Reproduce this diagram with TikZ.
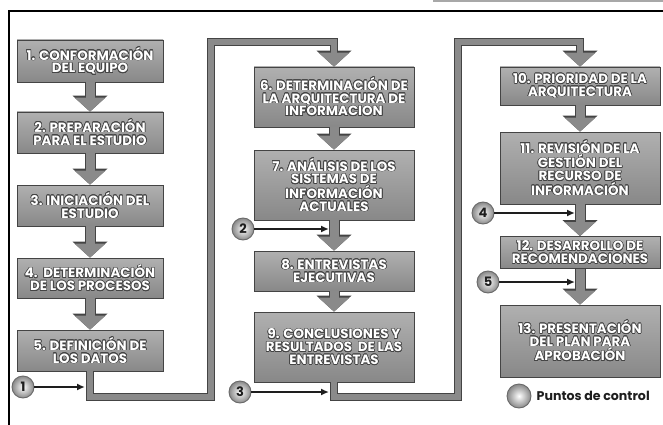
\documentclass[tikz,border=0pt]{standalone}
\usepackage{fontspec}
\setmainfont{Poppins}
\usepackage{contour}
\usetikzlibrary{arrows.meta,calc}
\definecolor{peInk}{HTML}{1E1E1E}
\definecolor{peEdge}{HTML}{444444}
\definecolor{peBoxTop}{HTML}{B0B0B0}
\definecolor{peBoxBot}{HTML}{888888}
\definecolor{pePipe}{HTML}{8A8A8A}
\definecolor{peRule}{HTML}{A8A8A8}
\newcommand{\PEType}{\bfseries\fontsize{13.4}{12.8}\selectfont}
\newcommand{\PELine}[1]{\contour{peEdge}{#1}}
\contourlength{0.6pt}
\contournumber{16}
\tikzset{pe/base/.style={x=1pt,y=-1pt,line cap=butt,line join=miter,
  every node/.style={inner sep=0pt,text=peInk}},
  pe/box/.style={draw=peEdge,line width=.8pt,top color=peBoxTop,bottom color=peBoxBot,
    align=center,font=\PEType,text=white},
  pe/colA/.style={pe/box,minimum width=146pt},
  pe/colB/.style={pe/box,minimum width=160pt},
  pe/flow/.style={draw=pePipe,line width=9pt,
    -{Triangle[width=31pt,length=14pt,line width=0pt]},
    preaction={draw=peEdge,line width=11pt,-{Triangle[width=35pt,length=16pt,line width=0pt]}}},
  pe/loop/.style={draw=pePipe,line width=6pt,
    -{Triangle[width=31pt,length=14pt,line width=0pt]},
    preaction={draw=peEdge,line width=8pt,-{Triangle[width=35pt,length=16pt,line width=0pt]}}},
  pe/dot/.style={circle,draw=peEdge!80,line width=.9pt,inner color=white,outer color=peBoxBot,
    minimum size=22pt,font=\bfseries\fontsize{13}{13}\selectfont},
  pe/check/.style={-{Latex[length=8pt,width=7pt]},draw=peInk,line width=2.3pt,shorten >=5pt}}

\begin{document}
\begin{tikzpicture}[pe/base]
  \useasboundingbox (0,0) rectangle (663,425);
  \draw[black,line width=1.3pt] (9,425)--(9,11)--(663,11);
  \draw[peRule,line width=1.5pt] (433,1)--(663,1);
  % first column
  \node[pe/colA,minimum height=42pt] (b1) at (90,61)
    {\PELine{1. CONFORMACIÓN}\\\PELine{DEL EQUIPO}};
  \node[pe/colA,minimum height=41pt] (b2) at (90,132.5)
    {\PELine{2. PREPARACIÓN}\\\PELine{PARA EL ESTUDIO}};
  \node[pe/colA,minimum height=41pt] (b3) at (90,205.5)
    {\PELine{3. INICIACIÓN DEL}\\\PELine{ESTUDIO}};
  \node[pe/colA,minimum height=40pt] (b4) at (90,278)
    {\PELine{4.\ \ DETERMINACIÓN}\\\PELine{DE LOS PROCESOS}};
  \node[pe/colA,minimum height=41pt] (b5) at (90,350.5)
    {\PELine{5. DEFINICIÓN DE}\\\PELine{LOS DATOS}};
  % second column
  \node[pe/colB,minimum height=60pt] (b6) at (334,97)
    {\PELine{6. DETERMINACIÓN DE}\\\PELine{LA ARQUITECTURA DE}\\\PELine{INFORMACION}};
  \node[pe/colB,minimum height=70pt] (b7) at (334,185)
    {\PELine{7. ANÁLISIS DE LOS}\\\PELine{SISTEMAS DE}\\\PELine{INFORMACIÓN}\\\PELine{ACTUALES}};
  \node[pe/colB,minimum height=40pt] (b8) at (334,271)
    {\PELine{8. ENTREVISTAS}\\\PELine{EJECUTIVAS}};
  \node[pe/colB,minimum height=70pt] (b9) at (334,347)
    {\PELine{9. CONCLUSIONES Y}\\\PELine{RESULTADOS\ \ DE LAS}\\\PELine{ENTREVISTAS}};
  % third column
  \node[pe/colB,minimum height=38pt] (b10) at (580,86)
    {\PELine{10. PRIORIDAD DE LA}\\\PELine{ARQUITECTURA}};
  \node[pe/colB,minimum height=72pt] (b11) at (580,168)
    {\PELine{11. REVISIÓN DE LA}\\\PELine{GESTIÓN DEL}\\\PELine{RECURSO DE}\\\PELine{INFORMACIÓN}};
  \node[pe/colB,minimum height=32pt] (b12) at (580,252.5)
    {\PELine{12. DESARROLLO DE}\\\PELine{RECOMENDACIONES}};
  \node[pe/colB,minimum height=72pt] (b13) at (580,341)
    {\PELine{13. PRESENTACIÓN}\\\PELine{DEL PLAN PARA}\\\PELine{APROBACIÓN}};
  \foreach \a/\b in {b1/b2,b2/b3,b3/b4,b4/b5,b6/b7,b7/b8,b8/b9,b10/b11,b11/b12,b12/b13}
    \draw[pe/flow] (\a.south)--(\b.north);
  % the two returns to the top of the next column
  \coordinate (j1b) at (211,397);
  \coordinate (j1t) at (211,42);
  \coordinate (j2b) at (458,397);
  \coordinate (j2t) at (458,42);
  \draw[pe/loop] (b5.south) |- (j1b) -- (j1t) -| (b6.north);
  \draw[pe/loop] (b9.south) |- (j2b) -- (j2t) -| (b10.north);
  % control points
  \node[pe/dot] (k1) at (23,387) {1};
  \node[pe/dot] (k2) at (243,229) {2};
  \node[pe/dot] (k3) at (240,392) {3};
  \node[pe/dot] (k4) at (483,213) {4};
  \node[pe/dot] (k5) at (488,282) {5};
  \draw[pe/check] (k1)--(k1 -| b5.south);
  \draw[pe/check] (k2)--(k2 -| b7.south);
  \draw[pe/check] (k3)--(k3 -| b9.south);
  \draw[pe/check] (k4)--(k4 -| b11.south);
  \draw[pe/check] (k5)--(k5 -| b12.south);
  \node[pe/dot,minimum size=24pt] (key) at (519,396) {};
  \node[anchor=west,font=\bfseries\fontsize{12.6}{14}\selectfont] (keytext) at ([xshift=5pt]key.east)
    {Puntos de control};
\end{tikzpicture}
\end{document}
